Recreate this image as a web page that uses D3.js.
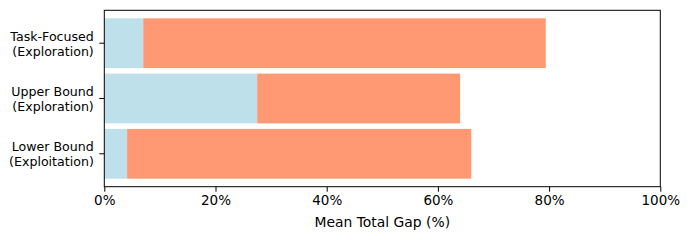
<!DOCTYPE html>
<html>
<head>
<meta charset="utf-8">
<script src="https://cdn.jsdelivr.net/npm/d3@7"></script>
<style>
  html, body { margin: 0; padding: 0; background: #fff; }
  svg text { font-family: "DejaVu Sans", sans-serif; fill: #000; }
</style>
</head>
<body>
<svg id="chart" width="690" height="240"></svg>
<script>
// categories top to bottom, as drawn
const categories = [
  ["Task-Focused", "(Exploration)"],
  ["Upper Bound", "(Exploration)"],
  ["Lower Bound", "(Exploitation)"]
];
const firstPart = [7.0, 27.5, 4.1];   // light blue segment
const totalGap = [79.4, 64.0, 66.0];  // end of the salmon segment
const xTicks = [0, 20, 40, 60, 80, 100];

const margin = { left: 104.3, top: 10.3, right: 690 - 660.3, bottom: 240 - 186.7 };
const width = 690 - margin.left - margin.right;
const height = 240 - margin.top - margin.bottom;

const svg = d3.select("#chart");
const g = svg.append("g").attr("transform", `translate(${margin.left},${margin.top})`);

const keys = categories.map(c => c.join(" "));
const x = d3.scaleLinear().domain([0, 100]).range([0, width]);
const y = d3.scaleBand().domain(keys).range([0, height]).paddingInner(0.1).paddingOuter(0.145);

//stacked bars: blue from 0, salmon from blue end to total
keys.forEach((k, i) => {
  g.append("rect")
    .attr("x", x(0))
    .attr("y", y(k))
    .attr("width", x(firstPart[i]) - x(0))
    .attr("height", y.bandwidth())
    .attr("fill", "lightblue")
    .attr("fill-opacity", 0.8);
  g.append("rect")
    .attr("x", x(firstPart[i]))
    .attr("y", y(k))
    .attr("width", x(totalGap[i]) - x(firstPart[i]))
    .attr("height", y.bandwidth())
    .attr("fill", "coral")
    .attr("fill-opacity", 0.8);
});

// frame
g.append("rect")
  .attr("width", width)
  .attr("height", height)
  .attr("fill", "none")
  .attr("stroke", "#000")
  .attr("stroke-width", 1);

const xAxis = g.append("g")
  .attr("transform", `translate(0,${height})`)
  .call(d3.axisBottom(x).tickValues(xTicks).tickFormat(d => d + "%").tickSize(5).tickPadding(4));
xAxis.select(".domain").remove();
xAxis.selectAll("text").style("font-size", "13.5px");
xAxis.selectAll("line").attr("stroke-width", 1);

const yAxis = g.append("g")
  .call(d3.axisLeft(y).tickSize(5).tickFormat(""));
yAxis.select(".domain").remove();
yAxis.selectAll("line").attr("stroke-width", 1);

keys.forEach((k, i) => {
  const cy = y(k) + y.bandwidth() / 2;
  const t = g.append("text")
    .attr("x", -10.5)
    .attr("y", cy)
    .attr("text-anchor", "end")
    .style("font-size", "12.6px");
  t.append("tspan").attr("x", -10.5).attr("dy", "-0.2em").text(categories[i][0]);
  t.append("tspan").attr("x", -10.5).attr("dy", "1.2em").text(categories[i][1]);
});

g.append("text")
  .attr("x", width / 2)
  .attr("y", height + 40)
  .attr("text-anchor", "middle")
  .style("font-size", "13.9px")
  .text("Mean Total Gap (%)");
</script>
</body>
</html>
